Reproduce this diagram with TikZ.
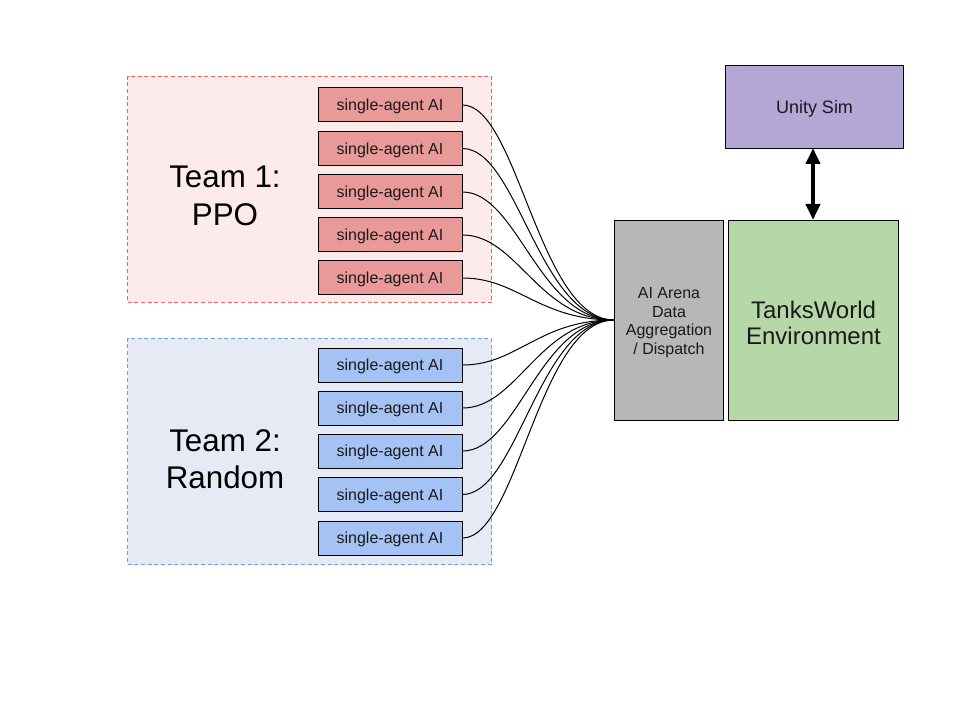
\documentclass[tikz,border=0pt]{standalone}
\usepackage{fontspec}
\setmainfont{Liberation Sans}
\usetikzlibrary{arrows.meta,calc}
\definecolor{teamAfill}{HTML}{FDEAEA}
\definecolor{teamAline}{HTML}{E06666}
\definecolor{agentA}{HTML}{EA9999}
\definecolor{teamBfill}{HTML}{E6EAF5}
\definecolor{teamBline}{HTML}{6D9EEB}
\definecolor{agentB}{HTML}{A4C2F4}
\definecolor{grayfill}{HTML}{B7B7B7}
\definecolor{greenfill}{HTML}{B6D7A8}
\definecolor{purplefill}{HTML}{B4A7D6}
\definecolor{txt}{HTML}{1A1A1A}
\begin{document}
\begin{tikzpicture}[x=0.75pt,y=-0.75pt,
  teambox/.style={draw, line width=0.75pt, dash pattern=on 3pt off 2pt},
  agentbox/.style={draw=black, line width=0.75pt, minimum width=108pt, minimum height=25.5pt, inner sep=0pt},
  agenttext/.style={text=txt, font=\fontsize{12}{14}\selectfont},
  teamlabel/.style={align=center, font=\fontsize{23.5}{28}\selectfont},
  link/.style={line width=0.75pt, black},
  bigbox/.style={draw=black, line width=0.75pt, inner sep=0pt}
]
\useasboundingbox (0,0) rectangle (960,720);
% team frames
\node[teambox, draw=teamAline, fill=teamAfill, minimum width=273pt, minimum height=169.5pt, anchor=north west, inner sep=0pt] (t1) at (127,76) {};
\node[teambox, draw=teamBline, fill=teamBfill, minimum width=273pt, minimum height=169.5pt, anchor=north west, inner sep=0pt] (t2) at (127,338) {};
\node[teamlabel] (l1) at (225,196) {Team 1:\\PPO};
\node[teamlabel] (l2) at (225,459) {Team 2:\\Random};
% agents
\foreach \i/\y in {1/105,2/148.5,3/192,4/235,5/278}{
  \node[agentbox, fill=agentA] (a\i) at (390,\y) {};
  \node[agenttext] (at\i) at (390,\y+1.5) {single-agent AI};
}
\foreach \i/\y in {1/365,2/408,3/451,4/494.5,5/538}{
  \node[agentbox, fill=agentB] (b\i) at (390,\y) {};
  \node[agenttext] (bt\i) at (390,\y+1.5) {single-agent AI};
}
% right boxes
\node[bigbox, fill=grayfill, minimum width=81.75pt, minimum height=150pt, anchor=north west] (arena) at (614,220) {};
\node[align=center, text=txt, font=\fontsize{12}{13.9}\selectfont] (arenatext) at ($(arena.center)+(0,2)$) {AI Arena\\Data\\Aggregation\\/ Dispatch};
\node[bigbox, fill=greenfill, minimum width=127.5pt, minimum height=150pt, anchor=north west] (env) at (728,220) {};
\node[align=center, text=txt, font=\fontsize{18}{19.5}\selectfont] (envtext) at ($(env.center)+(0,2)$) {TanksWorld\\Environment};
\node[bigbox, fill=purplefill, minimum width=133.5pt, minimum height=62.25pt, anchor=north west] (unity) at (725,65) {};
\node[text=txt, font=\fontsize{13.5}{15}\selectfont] (unitytext) at ($(unity.center)+(0,2)$) {Unity Sim};
\coordinate (hub) at (614,320);
\coordinate (arrowtop) at (813,148);
\coordinate (arrowbot) at (813,220);
% arrow
\draw[line width=3pt, {Triangle[width=10.5pt,length=12pt]}-{Triangle[width=10.5pt,length=12pt]}] (arrowtop) -- (arrowbot);
% links
\foreach \n in {a1,a2,a3,a4,a5,b1,b2,b3,b4,b5}{
  \draw[link] (\n.east) .. controls ($(\n.east)+(55,0)$) and ($(hub)+(-75,0)$) .. (hub);
}
\end{tikzpicture}
\end{document}
